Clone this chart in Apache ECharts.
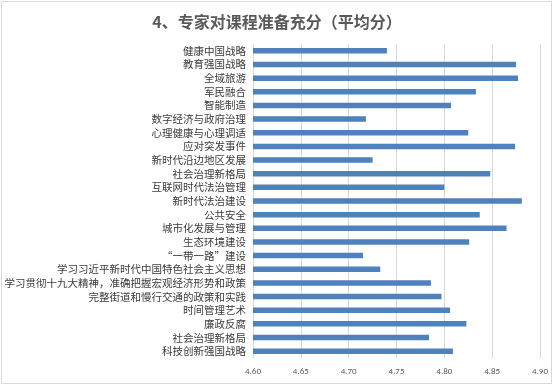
<!DOCTYPE html>
<html>
<head>
<meta charset="utf-8">
<script src="https://cdn.jsdelivr.net/npm/echarts@6/dist/echarts.min.js"></script>
<style>
html,body{margin:0;padding:0;background:#fff;}
#c{width:554px;height:386px;}
</style>
</head>
<body>
<div id="c"></div>
<script>
const titleText = '4、专家对课程准备充分（平均分）';
const categories = [
  '健康中国战略','教育强国战略','全域旅游','军民融合','智能制造','数字经济与政府治理',
  '心理健康与心理调适','应对突发事件','新时代沿边地区发展','社会治理新格局','互联网时代法治管理',
  '新时代法治建设','公共安全','城市化发展与管理','生态环境建设','“一带一路”建设',
  '学习习近平新时代中国特色社会主义思想','学习贯彻十九大精神，准确把握宏观经济形势和政策',
  '完整街道和慢行交通的政策和实践','时间管理艺术','廉政反腐','社会治理新格局','科技创新强国战略'
];
const scores = [
  4.740, 4.875, 4.877, 4.833, 4.807, 4.718,
  4.825, 4.874, 4.725, 4.848, 4.800,
  4.881, 4.837, 4.865, 4.826, 4.715,
  4.733, 4.786,
  4.797, 4.806, 4.823, 4.784, 4.809
];
const xMin = 4.6, xMax = 4.9, xStep = 0.05;

const chart = echarts.init(document.getElementById('c'), null, {renderer:'canvas'});
chart.setOption({
  animation: false,
  backgroundColor: '#fff',
  textStyle: {fontFamily: '"Noto Sans CJK SC", "Noto Sans", sans-serif'},
  title: {
    text: titleText,
    left: 'center',
    top: 9,
    textStyle: {fontSize: 16, fontWeight: 'bold', color: '#595959', fontFamily: '"Noto Sans CJK SC", sans-serif'}
  },
  graphic: [{
    type: 'rect',
    shape: {x: 1.5, y: 1.5, width: 550, height: 382},
    style: {fill: 'none', stroke: '#d9d9d9', lineWidth: 1},
    silent: true
  }],
  grid: {left: 253, right: 14, top: 44, bottom: 28, containLabel: false},
  xAxis: {
    type: 'value',
    min: xMin, max: xMax, interval: xStep,
    axisLine: {show: false},
    axisTick: {show: false},
    splitLine: {show: true, lineStyle: {color: '#d9d9d9', width: 1}},
    axisLabel: {
      color: '#595959', fontSize: 9, margin: 9,
      fontFamily: 'Calibri, Carlito, "Liberation Sans", sans-serif',
      formatter: v => v.toFixed(2)
    }
  },
  yAxis: {
    type: 'category',
    inverse: true,
    data: categories,
    axisLine: {show: true, lineStyle: {color: '#d9d9d9'}},
    axisTick: {show: false},
    axisLabel: {interval: 0, color: '#3a3a3a', fontSize: 10.5, margin: 7,
      fontFamily: '"Noto Sans CJK SC", sans-serif'}
  },
  series: [{
    type: 'bar',
    data: scores,
    barWidth: 5.5,
    itemStyle: {color: '#4f81bd'}
  }]
});
</script>
</body>
</html>
